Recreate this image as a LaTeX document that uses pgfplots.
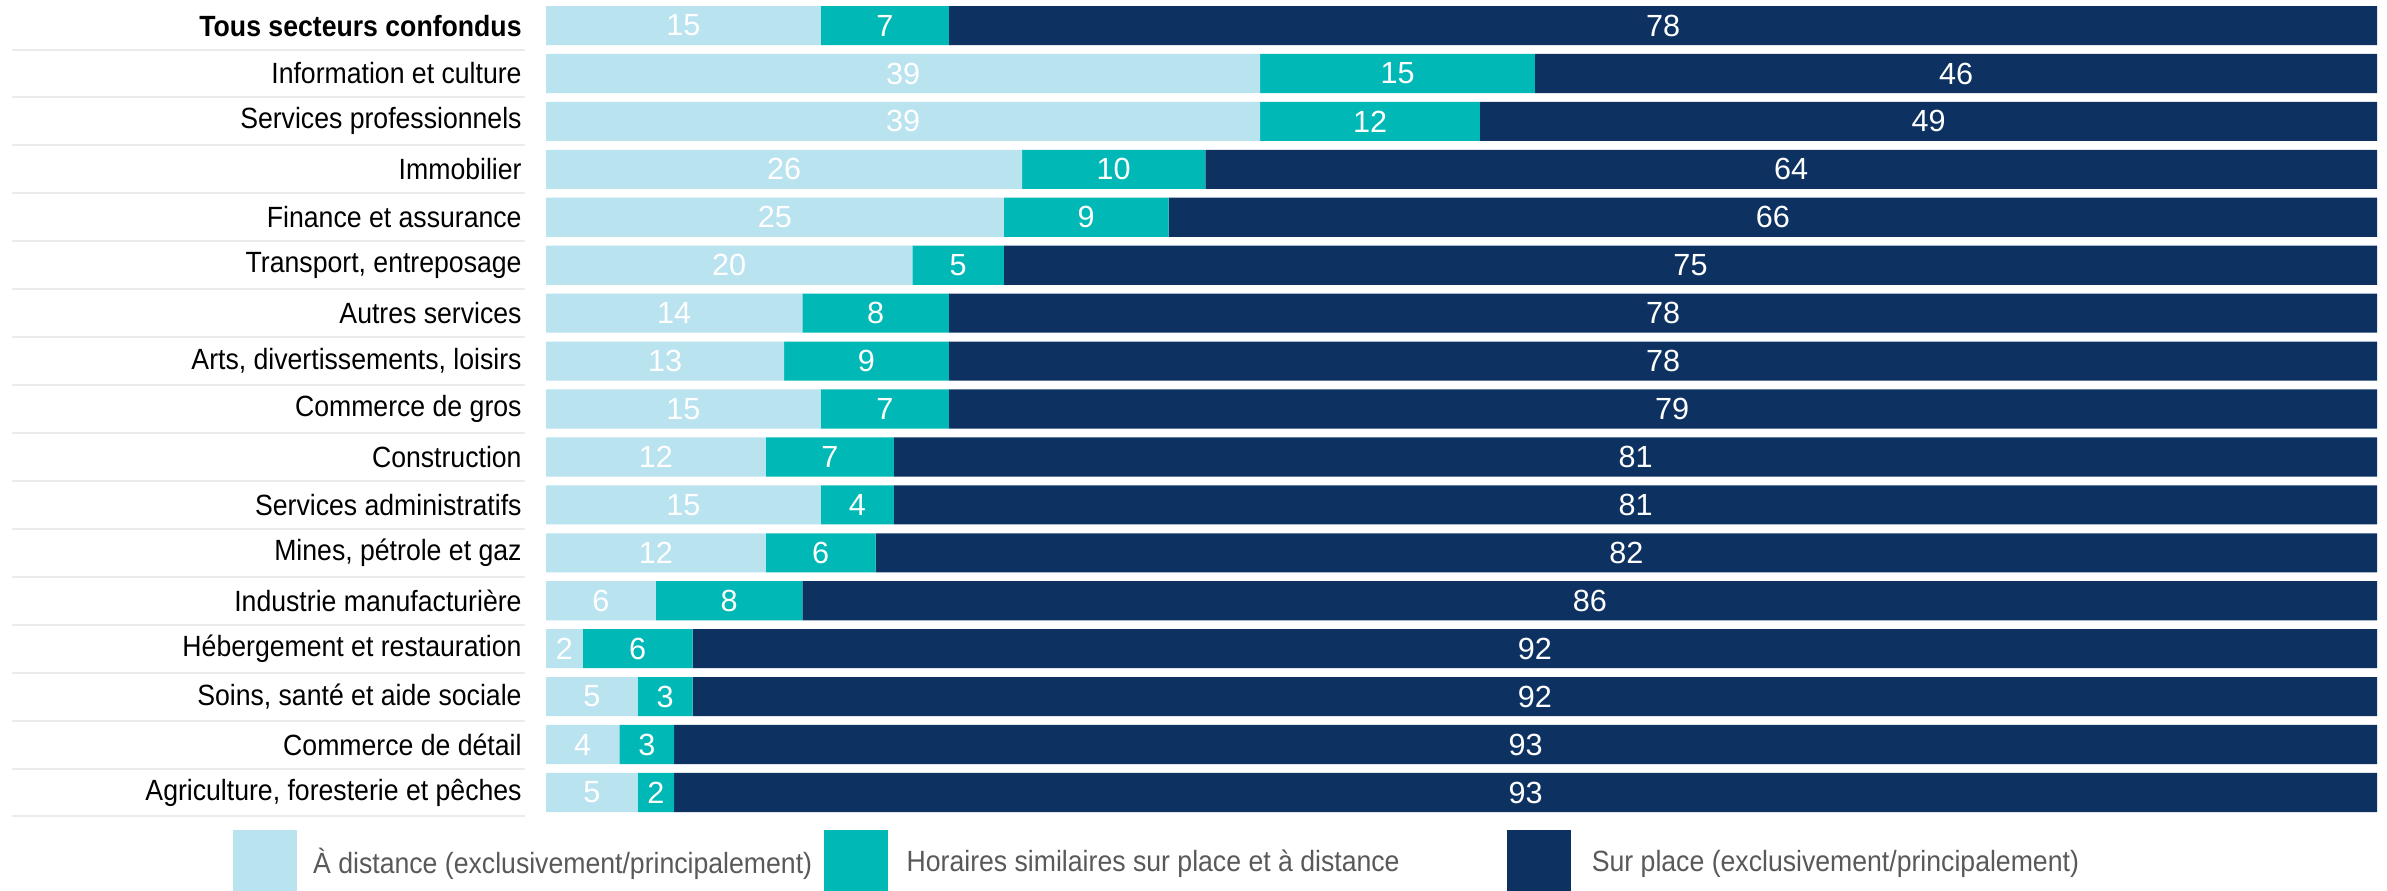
\documentclass[border=0pt]{standalone}
\usepackage{fontspec}
\setmainfont{Liberation Sans}
\newfontfamily\nar[FakeStretch=0.91]{Liberation Sans}
\usepackage{pgfplots}
\usepackage{pgfplotstable}
\pgfplotsset{compat=1.18}
\definecolor{cLight}{HTML}{BAE3F0}
\definecolor{cTeal}{HTML}{00B9B6}
\definecolor{cNavy}{HTML}{0D3262}
\definecolor{cSep}{HTML}{EBEBEB}
\definecolor{cLeg}{HTML}{595959}
\pgfplotstableread{
y a b c
0 15 7 78
1 39 15 46
2 39 12 49
3 26 10 64
4 25 9 66
5 20 5 75
6 14 8 78
7 13 9 78
8 15 7 79
9 12 7 81
10 15 4 81
11 12 6 82
12 6 8 86
13 2 6 92
14 5 3 92
15 4 3 93
16 5 2 93
}\data
\pgfplotstablecreatecol[create col/expr={\thisrow{a}/2}]{ca}\data
\pgfplotstablecreatecol[create col/expr={\thisrow{a}+\thisrow{b}/2}]{cb}\data
\pgfplotstablecreatecol[create col/expr={\thisrow{a}+\thisrow{b}+\thisrow{c}/2}]{cc}\data
\pgfplotsset{
  common/.style={
    at={(205.2pt,28pt)}, anchor=south west,
    scale only axis, width=688.1pt, height=306.2pt,
    xmin=0, xmax=100, ymin=-0.5, ymax=16.5, y dir=reverse,
  }
}
\begin{document}
\begin{tikzpicture}
\useasboundingbox (0,0) rectangle (897pt,334.8pt);
\begin{axis}[
  common,
  name=ax,
  xbar stacked, bar width=14.7pt,
  axis line style={draw=none},
  xtick=\empty,
  ytick={0,...,16},
  tick style={draw=none},
  yticklabels={\textbf{Tous secteurs confondus},Information et culture,Services professionnels,Immobilier,Finance et assurance,{Transport, entreposage},Autres services,{Arts, divertissements, loisirs},Commerce de gros,Construction,Services administratifs,{Mines, pétrole et gaz},Industrie manufacturière,Hébergement et restauration,{Soins, santé et aide sociale},Commerce de détail,{Agriculture, foresterie et pêches}},
  yticklabel style={anchor=east, inner sep=0pt, xshift=-9pt, font=\nar\fontsize{11}{13}\selectfont, text=black},
]
\addplot[fill=cLight, draw=none] table[x=a, y=y]{\data};
\addplot[fill=cTeal, draw=none] table[x=b, y=y]{\data};
\addplot[fill=cNavy, draw=none] table[x=c, y=y]{\data};
\end{axis}
\begin{axis}[
  common,
  hide axis, clip=false,
  point meta=explicit symbolic,
  nodes near coords={\pgfplotspointmeta},
  every node near coord/.append style={anchor=center, inner sep=0pt, text=white, font=\fontsize{11.5}{13}\selectfont},
]
\addplot[draw=none, mark=none] table[x=ca, y=y, meta=a]{\data};
\addplot[draw=none, mark=none] table[x=cb, y=y, meta=b]{\data};
\addplot[draw=none, mark=none] table[x=cc, y=y, meta=c]{\data};
\end{axis}
\foreach \k in {1,...,17}
  \draw[cSep, line width=0.75pt] ([shift={(-200.6pt,{-\k*18.012pt})}]ax.north west) -- ([shift={(-7.8pt,{-\k*18.012pt})}]ax.north west);
\fill[cLight] (87.6pt,0) rectangle (111.6pt,23pt);
\node[anchor=west, text=cLeg, inner sep=0pt, font=\nar\fontsize{11}{13}\selectfont] at (117.5pt,10.2pt) {À distance (exclusivement/principalement)};
\fill[cTeal] (309.6pt,0) rectangle (333.6pt,23pt);
\node[anchor=west, text=cLeg, inner sep=0pt, font=\nar\fontsize{11}{13}\selectfont] at (340.5pt,10.2pt) {Horaires similaires sur place et à distance};
\fill[cNavy] (566.3pt,0) rectangle (590.3pt,23pt);
\node[anchor=west, text=cLeg, inner sep=0pt, font=\nar\fontsize{11}{13}\selectfont] at (598pt,10.2pt) {Sur place (exclusivement/principalement)};
\end{tikzpicture}
\end{document}
